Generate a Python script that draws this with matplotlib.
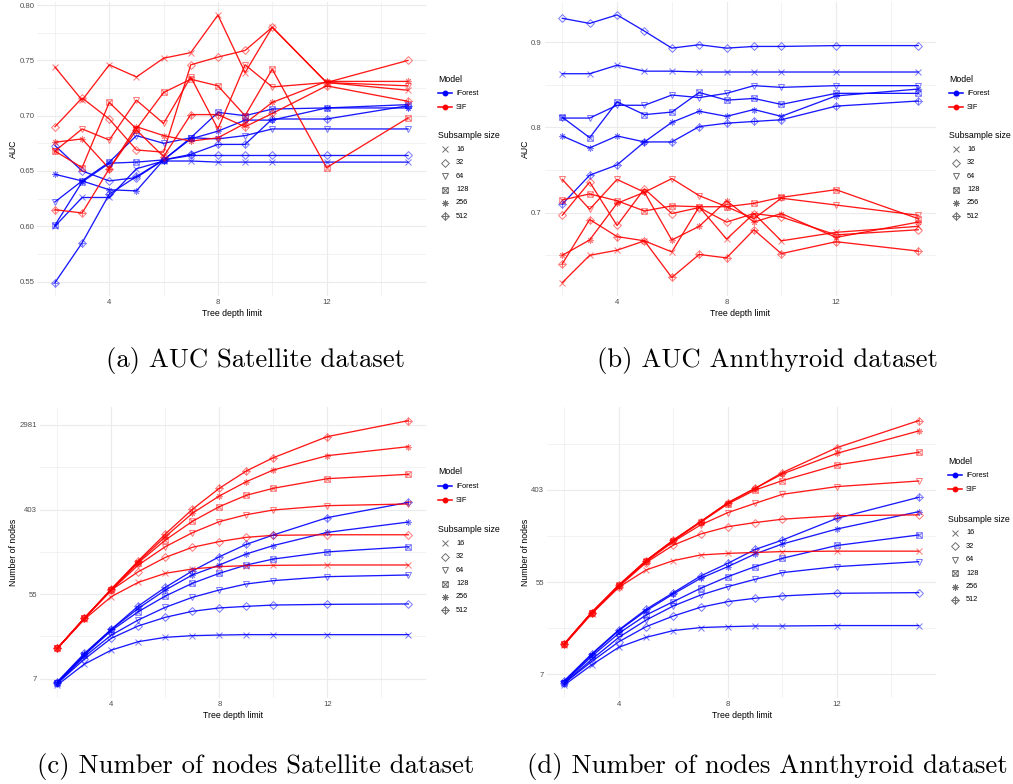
import numpy as np
import matplotlib
matplotlib.use("Agg")
import matplotlib.pyplot as plt
from matplotlib.path import Path
from matplotlib.lines import Line2D
from matplotlib.ticker import FixedLocator, FixedFormatter, NullFormatter, FormatStrFormatter

plt.rcParams['font.family'] = ['Liberation Sans', 'DejaVu Sans']

# ---------------------------------------------------------------- data
depths = [2, 3, 4, 5, 6, 7, 8, 9, 10, 12, 15]
subsample_sizes = [16, 32, 64, 128, 256, 512]
models = ["iForest", "SIF"]

# AUC on the Satellite dataset
auc_sat_iforest = {
    16:  [0.600, 0.626, 0.626, 0.652, 0.659, 0.659, 0.658, 0.658, 0.658, 0.658, 0.658],
    32:  [0.673, 0.650, 0.641, 0.644, 0.660, 0.664, 0.664, 0.664, 0.664, 0.664, 0.664],
    64:  [0.622, 0.641, 0.658, 0.682, 0.675, 0.680, 0.679, 0.682, 0.688, 0.688, 0.688],
    128: [0.601, 0.640, 0.657, 0.658, 0.660, 0.680, 0.703, 0.700, 0.706, 0.707, 0.710],
    256: [0.647, 0.641, 0.633, 0.632, 0.660, 0.679, 0.686, 0.696, 0.696, 0.707, 0.707],
    512: [0.549, 0.585, 0.629, 0.645, 0.660, 0.665, 0.674, 0.674, 0.697, 0.697, 0.709],
}
auc_sat_sif = {
    16:  [0.744, 0.714, 0.746, 0.735, 0.752, 0.757, 0.791, 0.739, 0.780, 0.730, 0.723],
    32:  [0.690, 0.716, 0.697, 0.669, 0.667, 0.746, 0.753, 0.759, 0.780, 0.730, 0.750],
    64:  [0.668, 0.688, 0.678, 0.714, 0.693, 0.735, 0.688, 0.746, 0.726, 0.730, 0.727],
    128: [0.668, 0.653, 0.712, 0.688, 0.721, 0.733, 0.727, 0.700, 0.742, 0.653, 0.698],
    256: [0.676, 0.679, 0.652, 0.690, 0.682, 0.677, 0.680, 0.693, 0.712, 0.731, 0.731],
    512: [0.615, 0.612, 0.652, 0.687, 0.663, 0.701, 0.701, 0.690, 0.702, 0.727, 0.713],
}

# AUC on the Annthyroid dataset
auc_ann_iforest = {
    16:  [0.863, 0.863, 0.873, 0.866, 0.866, 0.865, 0.865, 0.865, 0.865, 0.865, 0.865],
    32:  [0.928, 0.922, 0.932, 0.913, 0.893, 0.897, 0.893, 0.895, 0.895, 0.896, 0.896],
    64:  [0.811, 0.811, 0.826, 0.826, 0.838, 0.835, 0.840, 0.849, 0.847, 0.849, 0.849],
    128: [0.812, 0.788, 0.830, 0.815, 0.818, 0.841, 0.832, 0.834, 0.827, 0.840, 0.840],
    256: [0.790, 0.776, 0.790, 0.783, 0.806, 0.819, 0.813, 0.821, 0.813, 0.837, 0.845],
    512: [0.710, 0.744, 0.756, 0.783, 0.783, 0.801, 0.805, 0.807, 0.809, 0.825, 0.831],
}
auc_ann_sif = {
    16:  [0.618, 0.650, 0.656, 0.667, 0.654, 0.707, 0.669, 0.699, 0.667, 0.677, 0.684],
    32:  [0.697, 0.736, 0.685, 0.728, 0.699, 0.706, 0.689, 0.699, 0.695, 0.674, 0.680],
    64:  [0.739, 0.704, 0.739, 0.724, 0.740, 0.720, 0.707, 0.693, 0.717, 0.709, 0.697],
    128: [0.715, 0.722, 0.714, 0.702, 0.708, 0.707, 0.707, 0.711, 0.718, 0.727, 0.693],
    256: [0.650, 0.668, 0.711, 0.724, 0.668, 0.684, 0.714, 0.689, 0.699, 0.671, 0.689],
    512: [0.640, 0.692, 0.672, 0.667, 0.624, 0.651, 0.647, 0.680, 0.652, 0.666, 0.655],
}

# Number of nodes, Satellite dataset
nodes_sat_iforest = {
    16:  [6.35, 10.4, 14.5, 17.7, 19.6, 20.4, 20.7, 20.9, 20.9, 20.9, 20.9],
    32:  [6.61, 11.7, 19.2, 25.7, 31.5, 36.3, 39.3, 40.8, 42.1, 42.8, 43.2],
    64:  [6.61, 12.4, 20.7, 29.6, 39.9, 50.5, 60.1, 69.3, 75.0, 82.4, 85.7],
    128: [6.71, 12.9, 23.0, 36.0, 52.1, 70.4, 89.2, 108.6, 125, 148, 167],
    256: [6.71, 13.1, 23.7, 38.9, 60.1, 85.7, 108.6, 141, 172, 235, 300],
    512: [6.87, 13.4, 23.7, 41.2, 64.0, 94.3, 132, 177, 221, 333, 478],
}
nodes_sat_sif = {
    16:  [15.1, 30.0, 51.4, 72.1, 89.2, 98.8, 104.4, 106.9, 107.7, 108.6, 108.6],
    32:  [15.1, 30.8, 60.1, 92.8, 130, 165, 189, 209, 219, 222, 222],
    64:  [15.1, 30.8, 60.1, 108.6, 167.5, 233, 303, 357, 399, 442, 460],
    128: [15.1, 30.8, 60.1, 114.8, 196, 305, 432, 565, 667, 837, 928],
    256: [15.1, 30.8, 61.6, 117.6, 212, 369, 556, 780, 1028, 1443, 1785],
    512: [15.1, 30.8, 61.6, 120.3, 226, 405, 667, 1005, 1375, 2265, 3306],
}

# Number of nodes, Annthyroid dataset
nodes_ann_iforest = {
    16:  [5.87, 9.06, 13.3, 16.5, 19.1, 20.4, 20.8, 21.1, 21.1, 21.3, 21.3],
    32:  [6.09, 9.74, 15.0, 20.8, 26.2, 31.7, 35.8, 38.5, 40.5, 42.9, 43.5],
    64:  [6.09, 10.2, 16.5, 24.0, 32.6, 41.3, 49.6, 58.1, 67.2, 76.5, 85.2],
    128: [6.18, 10.9, 18.0, 26.8, 35.8, 47.8, 61.6, 76.5, 91.7, 121, 152],
    256: [6.31, 11.3, 19.1, 29.4, 42.3, 59.4, 76.5, 100.7, 125, 173, 252],
    512: [6.45, 11.5, 19.4, 30.3, 43.5, 62.4, 82.2, 111, 136, 218, 344],
}
nodes_ann_sif = {
    16:  [14.0, 27.4, 48.9, 71.2, 87.1, 98.5, 102, 104, 106, 107, 107],
    32:  [14.3, 28.2, 49.6, 83.4, 122, 155, 182, 199, 214, 231, 235],
    64:  [14.3, 28.2, 50.3, 85.2, 131.5, 189, 247, 302, 367, 434, 490],
    128: [14.3, 28.2, 51.4, 87.1, 134, 200, 298, 403, 494, 694, 914],
    256: [14.3, 28.2, 50.3, 87.1, 136, 203, 306, 418, 571, 894, 1451],
    512: [14.3, 28.2, 51.4, 87.1, 136, 203, 306, 418, 588, 1011, 1816],
}

captions = [
    "(a) AUC Satellite dataset",
    "(b) AUC Annthyroid dataset",
    "(c) Number of nodes Satellite dataset",
    "(d) Number of nodes Annthyroid dataset",
]

# ---------------------------------------------------------------- style
W, H = 1013, 784
BLUE = (0.0, 0.0, 1.0)
RED = (1.0, 0.0, 0.0)
model_colors = [BLUE, RED]
GRID = "#EBEBEB"
TICK_COLOR = "#4D4D4D"

MV, LN, CL = Path.MOVETO, Path.LINETO, Path.CLOSEPOLY
square_cross = Path([(-1, -1), (1, -1), (1, 1), (-1, 1), (-1, -1),
                     (-1, -1), (1, 1), (-1, 1), (1, -1)],
                    [MV, LN, LN, LN, CL, MV, LN, MV, LN])
open_diamond = Path([(0, -1), (1, 0), (0, 1), (-1, 0), (0, -1)],
                    [MV, LN, LN, LN, CL])
diamond_plus = Path([(0, -1), (1, 0), (0, 1), (-1, 0), (0, -1),
                     (-1, 0), (1, 0), (0, -1), (0, 1)],
                    [MV, LN, LN, LN, CL, MV, LN, MV, LN])
shape_of = {
    16: ('x', 3.9),
    32: (open_diamond, 5.6),
    64: ('v', 4.7),
    128: (square_cross, 4.0),
    256: ((8, 2, 0), 4.7),
    512: (diamond_plus, 5.4),
}

fig = plt.figure(figsize=(W / 100, H / 100), dpi=100)


def axes_px(left, top, right, bottom):
    return fig.add_axes([left / W, 1 - bottom / H, (right - left) / W, (bottom - top) / H])


def fx(x):
    return x / W


def fy(y):
    return 1 - y / H


def style_axes(ax, ylabel):
    for sp in ax.spines.values():
        sp.set_visible(False)
    ax.xaxis.set_major_locator(FixedLocator([4, 8, 12]))
    ax.xaxis.set_minor_locator(FixedLocator([2, 6, 10, 14]))
    ax.xaxis.set_minor_formatter(NullFormatter())
    ax.grid(which='major', color=GRID, lw=0.8)
    ax.grid(which='minor', color=GRID, lw=0.45)
    ax.set_axisbelow(True)
    ax.tick_params(which='both', length=0, labelsize=5.6, labelcolor=TICK_COLOR, pad=2.0)
    ax.set_xlabel("Tree depth limit", fontsize=6.3, labelpad=2.3)
    ax.set_ylabel(ylabel, fontsize=6.3, labelpad=1.0)


def draw_series(ax, data_if, data_sif):
    groups = [(data_if, BLUE), (data_sif, RED)]
    for data, col in groups:
        for s in subsample_sizes:
            ax.plot(depths, data[s], color=col + (0.9,), lw=0.95, zorder=2)
    for data, col in groups:
        for s in subsample_sizes:
            mk, ms = shape_of[s]
            ax.plot(depths, data[s], ls='none', marker=mk, ms=ms, mfc='none',
                    mec=col + (0.5,), mew=0.75, zorder=3)


def draw_legend(x0, y_model, y_sub, step=13.4):
    fig.text(fx(x0), fy(y_model), "Model", fontsize=6.3, va='center', ha='left')
    for i, (name, col) in enumerate(zip(models, model_colors)):
        y = y_model + 14.2 * (i + 1)
        fig.add_artist(Line2D([fx(x0), fx(x0 + 14)], [fy(y), fy(y)],
                              transform=fig.transFigure, color=col, lw=1.1))
        fig.add_artist(Line2D([fx(x0 + 7)], [fy(y)], transform=fig.transFigure,
                              color=col, marker='o', ms=3.2, lw=0))
        fig.text(fx(x0 + 18), fy(y), name, fontsize=5.3, va='center', ha='left')
    fig.text(fx(x0), fy(y_sub), "Subsample size", fontsize=6.3, va='center', ha='left')
    for i, s in enumerate(subsample_sizes):
        y = y_sub + step * (i + 1)
        mk, ms = shape_of[s]
        fig.add_artist(Line2D([fx(x0 + 7)], [fy(y)], transform=fig.transFigure,
                              ls='none', marker=mk, ms=ms, mfc='none',
                              mec=(0.2, 0.2, 0.2, 0.7), mew=0.7))
        fig.text(fx(x0 + 18), fy(y), str(s), fontsize=5.3, va='center', ha='left')


# (a) AUC Satellite
ax_a = axes_px(37.3, 1.7, 425.7, 296)
draw_series(ax_a, auc_sat_iforest, auc_sat_sif)
style_axes(ax_a, "AUC")
ax_a.yaxis.set_major_locator(FixedLocator([0.55, 0.60, 0.65, 0.70, 0.75, 0.80]))
ax_a.yaxis.set_minor_locator(FixedLocator([0.575, 0.625, 0.675, 0.725, 0.775]))
ax_a.yaxis.set_major_formatter(FormatStrFormatter('%.2f'))
ax_a.yaxis.set_minor_formatter(NullFormatter())

# (b) AUC Annthyroid
ax_b = axes_px(544.5, 1.5, 936, 296)
draw_series(ax_b, auc_ann_iforest, auc_ann_sif)
style_axes(ax_b, "AUC")
ax_b.yaxis.set_major_locator(FixedLocator([0.7, 0.8, 0.9]))
ax_b.yaxis.set_minor_locator(FixedLocator([0.65, 0.75, 0.85]))
ax_b.yaxis.set_major_formatter(FormatStrFormatter('%.1f'))
ax_b.yaxis.set_minor_formatter(NullFormatter())

# node counts on a natural-log axis, breaks at e^2, e^4, ...
log_major = [np.exp(k) for k in (2, 4, 6, 8)]
log_labels = ["%d" % round(v) for v in log_major]
log_minor = [np.exp(k) for k in (1, 3, 5, 7, 9)]

# (c) nodes Satellite
ax_c = axes_px(39.8, 407.4, 425.9, 698.2)
ax_c.set_yscale('log', base=np.e)
draw_series(ax_c, nodes_sat_iforest, nodes_sat_sif)
style_axes(ax_c, "Number of nodes")

# (d) nodes Annthyroid
ax_d = axes_px(546.6, 407.4, 936.4, 698.2)
ax_d.set_yscale('log', base=np.e)
draw_series(ax_d, nodes_ann_iforest, nodes_ann_sif)
style_axes(ax_d, "Number of nodes")

for ax in (ax_c, ax_d):
    ax.yaxis.set_major_locator(FixedLocator(log_major))
    ax.yaxis.set_major_formatter(FixedFormatter(log_labels))
    ax.yaxis.set_minor_locator(FixedLocator(log_minor))
    ax.yaxis.set_minor_formatter(NullFormatter())

for ax in (ax_a, ax_b, ax_c, ax_d):
    ax.margins(x=0.05, y=0.05)
    ax.autoscale_view()

# legends
draw_legend(438, 79, 136)
draw_legend(949, 79, 136)
draw_legend(438, 472, 530)
draw_legend(948, 461, 519.5)

# captions
cap_pos = [(255.5, 361), (767.5, 361), (255.5, 766), (767.5, 766)]
for (cx, cy), txt in zip(cap_pos, captions):
    fig.text(fx(cx), fy(cy), txt, family='cmr10', fontsize=19.2, ha='center', va='center')

fig.savefig("out.png", dpi=100)
